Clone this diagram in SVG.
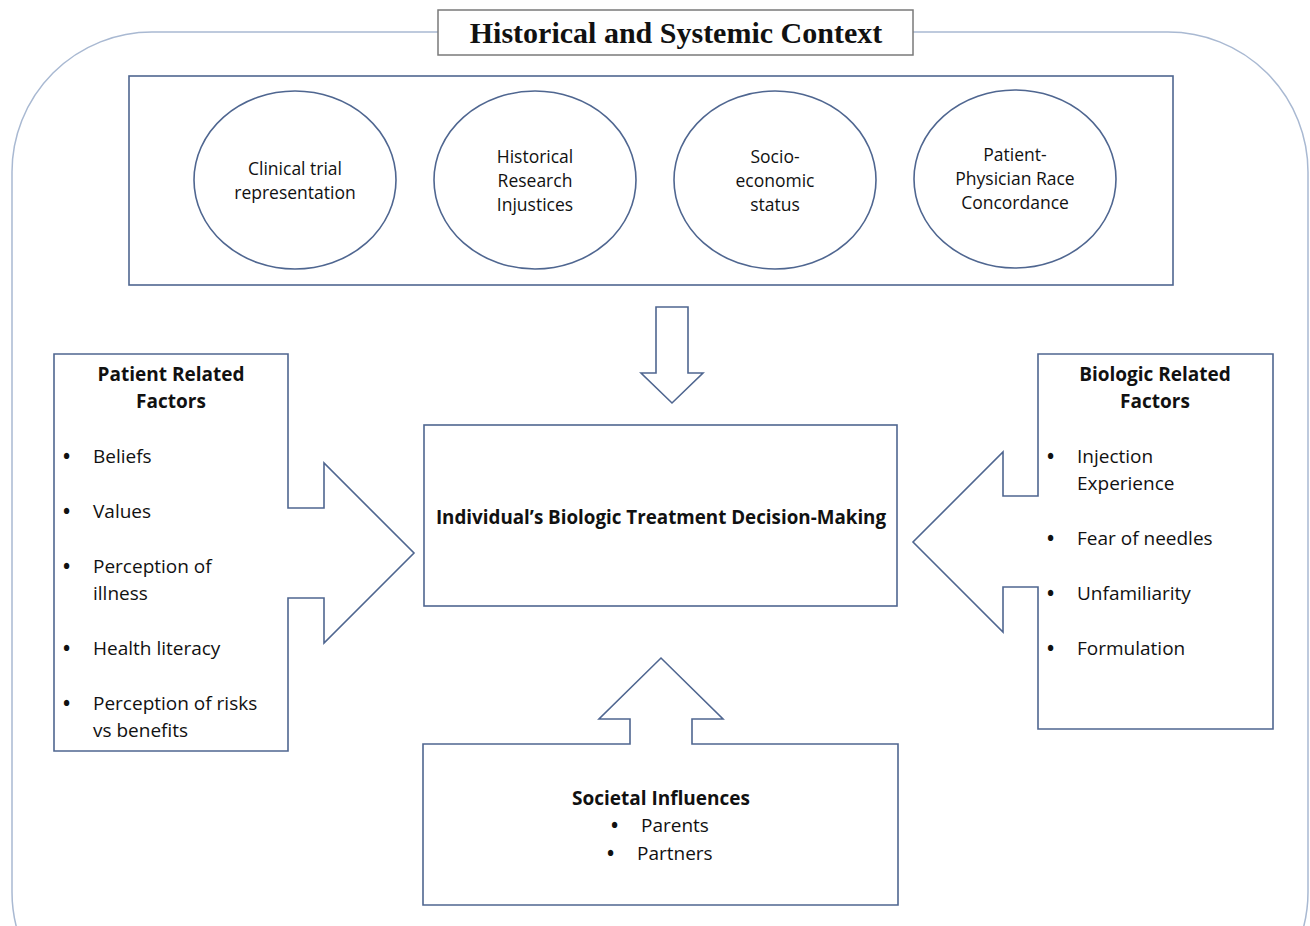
<svg xmlns="http://www.w3.org/2000/svg" width="1310" height="926" viewBox="0 0 1310 926">
<style>
.shape{fill:#fff;stroke:#4f6690;stroke-width:1.6}
.outer{fill:none;stroke:#a9b9d2;stroke-width:1.5}
.t{font-family:"Open Sans","Noto Sans",sans-serif;font-size:19px;fill:#111}
.d{font-family:"Open Sans","Noto Sans",sans-serif;font-size:19px;font-weight:bold;fill:#111}
.c{font-family:"Open Sans","Noto Sans",sans-serif;font-size:17.5px;fill:#111;text-anchor:middle}
.b{font-weight:bold}
.m{text-anchor:middle}
.title{font-family:"Liberation Serif","Times New Roman",serif;font-size:30px;font-weight:bold;fill:#111;text-anchor:middle}
</style>
<rect width="1310" height="926" fill="#fff"/>
<g id="outer-frame">
<rect class="outer" x="12" y="32" width="1296" height="1000" rx="140" ry="140"/>
</g>
<g id="title">
<rect x="438" y="10" width="475" height="45" fill="#fff" stroke="#7a7a7a" stroke-width="1.5"/>
<text class="title" x="676" y="43">Historical and Systemic Context</text>
</g>
<g id="context-box">
<rect class="shape" x="129" y="76" width="1044" height="209"/>
</g>
<g id="clinical-trial">
<ellipse class="shape" cx="295" cy="180" rx="101" ry="89"/>
<text class="c" x="295" y="175">Clinical trial</text>
<text class="c" x="295" y="199">representation</text>
</g>
<g id="historical-research">
<ellipse class="shape" cx="535" cy="180" rx="101" ry="89"/>
<text class="c" x="535" y="163">Historical</text>
<text class="c" x="535" y="187">Research</text>
<text class="c" x="535" y="211">Injustices</text>
</g>
<g id="socio-economic">
<ellipse class="shape" cx="775" cy="180" rx="101" ry="89"/>
<text class="c" x="775" y="163">Socio-</text>
<text class="c" x="775" y="187">economic</text>
<text class="c" x="775" y="211">status</text>
</g>
<g id="race-concordance">
<ellipse class="shape" cx="1015" cy="179" rx="101" ry="89"/>
<text class="c" x="1015" y="161">Patient-</text>
<text class="c" x="1015" y="185">Physician Race</text>
<text class="c" x="1015" y="209">Concordance</text>
</g>
<g id="connectors">
<polygon class="shape" points="656,307 688,307 688,373 703,373 672,403 641,373 656,373"/>
</g>
<g id="decision-making">
<rect class="shape" x="424" y="425" width="473" height="181"/>
<text class="t b m" x="661" y="524" style="font-size:18.8px">Individual’s Biologic Treatment Decision-Making</text>
</g>
<g id="patient-factors">
<path class="shape" d="M54,354 H288 V508 H324 V463 L414,553 L324,643 V598 H288 V751 H54 Z"/>
<text class="t b m" x="171" y="381">Patient Related</text>
<text class="t b m" x="171" y="408">Factors</text>
<text class="d" x="63" y="463">•</text><text class="t" x="93" y="463">Beliefs</text>
<text class="d" x="63" y="518">•</text><text class="t" x="93" y="518">Values</text>
<text class="d" x="63" y="573">•</text><text class="t" x="93" y="573">Perception of</text>
<text class="t" x="93" y="600">illness</text>
<text class="d" x="63" y="655">•</text><text class="t" x="93" y="655">Health literacy</text>
<text class="d" x="63" y="710">•</text><text class="t" x="93" y="710">Perception of risks</text>
<text class="t" x="93" y="737">vs benefits</text>
</g>
<g id="biologic-factors">
<path class="shape" d="M1038,354 H1273 V729 H1038 V587 H1003 V632 L913,542 L1003,452 V496 H1038 Z"/>
<text class="t b m" x="1155" y="381">Biologic Related</text>
<text class="t b m" x="1155" y="408">Factors</text>
<text class="d" x="1047" y="463">•</text><text class="t" x="1077" y="463">Injection</text>
<text class="t" x="1077" y="490">Experience</text>
<text class="d" x="1047" y="545">•</text><text class="t" x="1077" y="545">Fear of needles</text>
<text class="d" x="1047" y="600">•</text><text class="t" x="1077" y="600">Unfamiliarity</text>
<text class="d" x="1047" y="655">•</text><text class="t" x="1077" y="655">Formulation</text>
</g>
<g id="societal-influences">
<path class="shape" d="M423,744 H630 V719 H599 L661,658 L723,719 H692 V744 H898 V905 H423 Z"/>
<text class="t b m" x="661" y="805">Societal Influences</text>
<text class="d" x="611" y="832">•</text><text class="t" x="641" y="832">Parents</text>
<text class="d" x="607" y="860">•</text><text class="t" x="637" y="860">Partners</text>
</g>
</svg>
